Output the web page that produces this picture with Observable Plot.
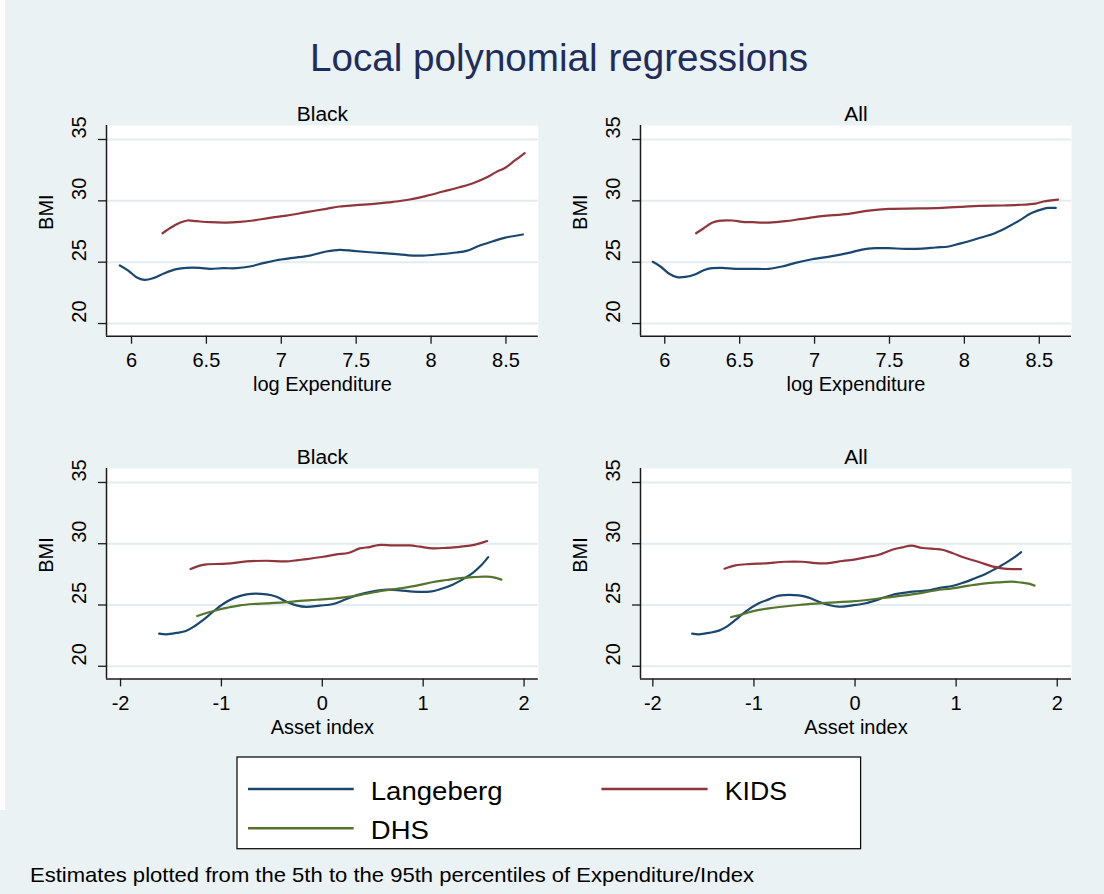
<!DOCTYPE html>
<html>
<head>
<meta charset="utf-8">
<script src="https://cdn.jsdelivr.net/npm/d3@7"></script>
<script src="https://cdn.jsdelivr.net/npm/@observablehq/plot@0.6"></script>
<style>
  body { margin: 0; background: #eaf2f3; }
  #root { position: relative; width: 1104px; height: 894px; background: #eaf2f3; overflow: hidden;
          font-family: "Liberation Sans", Arial, Helvetica, sans-serif; }
  .panel { position: absolute; }
  #overlay { position: absolute; left: 0; top: 0; }
</style>
</head>
<body>
<div id="root"></div>
<script>
// ---------------- DATA ----------------
const seriesNames = ["Langeberg", "KIDS", "DHS"];
const seriesColors = ["#1a476f", "#90353b", "#55752f"];

const yTicks = [20, 25, 30, 35];
const expTicks = [6, 6.5, 7, 7.5, 8, 8.5];
const assetTicks = [-2, -1, 0, 1, 2];

// log Expenditure, Black
const expBlackLangeberg = [[5.922,24.73],[5.978,24.32],[6.033,23.78],[6.085,23.56],[6.145,23.70],[6.22,24.10],[6.30,24.43],[6.367,24.54],[6.456,24.54],[6.523,24.46],[6.612,24.51],[6.70,24.51],[6.79,24.65],[6.879,24.92],[6.968,25.16],[7.079,25.35],[7.19,25.54],[7.30,25.87],[7.39,26.01],[7.48,25.92],[7.613,25.79],[7.747,25.68],[7.88,25.54],[7.947,25.54],[8.058,25.65],[8.17,25.79],[8.236,25.92],[8.325,26.36],[8.414,26.71],[8.49,26.98],[8.613,27.26]];
const expBlackKids = [[6.207,27.36],[6.267,27.85],[6.323,28.21],[6.372,28.40],[6.434,28.34],[6.523,28.26],[6.634,28.23],[6.723,28.29],[6.812,28.40],[6.923,28.61],[7.035,28.80],[7.168,29.08],[7.30,29.35],[7.39,29.54],[7.50,29.65],[7.635,29.78],[7.747,29.92],[7.858,30.11],[7.97,30.41],[8.08,30.76],[8.19,31.11],[8.28,31.44],[8.37,31.90],[8.437,32.36],[8.49,32.66],[8.56,33.29],[8.625,33.88]];

// log Expenditure, All
const expAllLangeberg = [[5.92,25.03],[5.971,24.65],[6.027,24.08],[6.082,23.78],[6.138,23.80],[6.205,24.02],[6.26,24.35],[6.316,24.51],[6.383,24.54],[6.472,24.46],[6.583,24.46],[6.694,24.46],[6.783,24.65],[6.872,24.95],[6.983,25.24],[7.117,25.49],[7.228,25.76],[7.317,26.03],[7.406,26.14],[7.495,26.14],[7.607,26.09],[7.718,26.11],[7.807,26.20],[7.896,26.28],[7.963,26.49],[8.052,26.79],[8.14,27.12],[8.185,27.28],[8.274,27.77],[8.363,28.37],[8.452,29.02],[8.528,29.35],[8.565,29.42],[8.61,29.42]];
const expAllKids = [[6.209,27.36],[6.26,27.77],[6.316,28.21],[6.36,28.37],[6.45,28.40],[6.516,28.29],[6.583,28.26],[6.694,28.23],[6.806,28.34],[6.917,28.53],[7.05,28.75],[7.228,28.94],[7.362,29.21],[7.495,29.35],[7.696,29.38],[7.851,29.43],[7.985,29.51],[8.096,29.59],[8.252,29.62],[8.363,29.67],[8.474,29.78],[8.528,29.95],[8.625,30.10]];

// Asset index, Black
const assetBlackLangeberg = [[-1.617,22.66],[-1.544,22.61],[-1.445,22.72],[-1.352,22.88],[-1.263,23.29],[-1.18,23.78],[-1.082,24.46],[-0.983,25.08],[-0.883,25.54],[-0.751,25.87],[-0.553,25.87],[-0.454,25.68],[-0.355,25.27],[-0.256,24.97],[-0.157,24.84],[-0.024,24.95],[0.108,25.08],[0.24,25.49],[0.372,25.87],[0.504,26.11],[0.636,26.25],[0.768,26.20],[0.90,26.09],[1.066,26.09],[1.165,26.28],[1.297,26.68],[1.429,27.28],[1.495,27.64],[1.578,28.26],[1.644,28.91]];
const assetBlackKids = [[-1.306,27.93],[-1.214,28.21],[-1.148,28.32],[-0.95,28.37],[-0.751,28.56],[-0.553,28.61],[-0.355,28.56],[-0.157,28.75],[0.009,28.94],[0.141,29.13],[0.256,29.24],[0.372,29.62],[0.471,29.73],[0.554,29.89],[0.702,29.86],[0.868,29.86],[0.967,29.76],[1.099,29.62],[1.231,29.67],[1.33,29.73],[1.462,29.84],[1.561,30.03],[1.634,30.22]];
const assetBlackDhs = [[-1.24,24.10],[-1.148,24.35],[-1.049,24.57],[-0.95,24.76],[-0.817,24.97],[-0.685,25.08],[-0.553,25.14],[-0.388,25.22],[-0.223,25.33],[-0.057,25.43],[0.108,25.52],[0.273,25.68],[0.438,25.92],[0.603,26.17],[0.768,26.36],[0.934,26.58],[1.099,26.88],[1.231,27.04],[1.363,27.20],[1.495,27.28],[1.627,27.31],[1.71,27.23],[1.776,27.07]];

// Asset index, All
const assetAllLangeberg = [[-1.611,22.66],[-1.545,22.61],[-1.446,22.72],[-1.347,22.91],[-1.265,23.26],[-1.182,23.78],[-1.083,24.46],[-0.952,25.14],[-0.853,25.46],[-0.754,25.76],[-0.556,25.79],[-0.457,25.60],[-0.358,25.27],[-0.259,25.00],[-0.16,24.86],[-0.028,24.97],[0.104,25.14],[0.235,25.46],[0.367,25.82],[0.499,26.01],[0.598,26.11],[0.73,26.20],[0.829,26.39],[0.961,26.55],[1.06,26.79],[1.159,27.09],[1.29,27.53],[1.389,27.96],[1.488,28.42],[1.571,28.86],[1.643,29.32]];
const assetAllKids = [[-1.291,27.96],[-1.182,28.23],[-1.05,28.34],[-0.886,28.40],[-0.688,28.53],[-0.523,28.53],[-0.391,28.42],[-0.259,28.42],[-0.127,28.59],[0.005,28.72],[0.137,28.94],[0.235,29.10],[0.367,29.51],[0.466,29.70],[0.558,29.84],[0.664,29.65],[0.796,29.57],[0.862,29.51],[0.961,29.24],[1.093,28.83],[1.225,28.51],[1.356,28.15],[1.455,27.99],[1.554,27.93],[1.643,27.93]];
const assetAllDhs = [[-1.225,24.02],[-1.116,24.24],[-0.985,24.54],[-0.853,24.73],[-0.721,24.86],[-0.556,25.00],[-0.391,25.11],[-0.193,25.22],[-0.028,25.30],[0.137,25.43],[0.301,25.60],[0.466,25.76],[0.631,25.95],[0.796,26.20],[0.961,26.36],[1.126,26.58],[1.29,26.77],[1.422,26.85],[1.554,26.90],[1.653,26.82],[1.719,26.74],[1.775,26.58]];

// ---------------- LAYOUT ----------------
const FONT = '"Liberation Sans", Arial, Helvetica, sans-serif';
const gridColor = "#e3ecee";
const axisColor = "#1a1a1a";
const yDomain = [18.97, 36.14];

const panels = [
  {title: "Black", xlabel: "log Expenditure", ticks: expTicks, xDomain: [5.833, 8.716],
   frame: {L: 105.7, R: 537.5, T: 125, B: 335.7}, series: [expBlackLangeberg, expBlackKids]},
  {title: "All", xlabel: "log Expenditure", ticks: expTicks, xDomain: [5.838, 8.715],
   frame: {L: 640, R: 1071, T: 125, B: 335.7}, series: [expAllLangeberg, expAllKids]},
  {title: "Black", xlabel: "Asset index", ticks: assetTicks, xDomain: [-2.139, 2.141],
   frame: {L: 105.7, R: 537.5, T: 468.3, B: 678.7}, series: [assetBlackLangeberg, assetBlackKids, assetBlackDhs]},
  {title: "All", xlabel: "Asset index", ticks: assetTicks, xDomain: [-2.122, 2.141],
   frame: {L: 640, R: 1071, T: 468.3, B: 678.7}, series: [assetAllLangeberg, assetAllKids, assetAllDhs]}
];

const root = document.getElementById("root");

// overlay for title, legend, caption
const W = 1104, H = 894;
const ov = d3.create("svg").attr("id", "overlay").attr("width", W).attr("height", H)
  .style("font-family", FONT);
ov.append("rect").attr("x", 0).attr("y", 0).attr("width", 5).attr("height", 810).attr("fill", "#ffffff");
ov.append("text").attr("x", 310).attr("y", 71).attr("font-size", 38).attr("fill", "#1f2d5e")
  .attr("textLength", 498).attr("lengthAdjust", "spacingAndGlyphs")
  .text("Local polynomial regressions");
// legend
const lg = ov.append("g");
lg.append("rect").attr("x", 237).attr("y", 757).attr("width", 623.6).attr("height", 91.7)
  .attr("fill", "#ffffff").attr("stroke", "#111").attr("stroke-width", 1.3);
const legendItems = [
  {name: seriesNames[0], color: seriesColors[0], x1: 248, x2: 353.7, y: 789, tx: 370.8, ty: 800, tl: 131.8},
  {name: seriesNames[1], color: seriesColors[1], x1: 601.4, x2: 707.6, y: 789, tx: 724.7, ty: 800, tl: 62.3},
  {name: seriesNames[2], color: seriesColors[2], x1: 248, x2: 353.7, y: 828.3, tx: 370.8, ty: 839.3, tl: 58}
];
for (const it of legendItems) {
  lg.append("line").attr("x1", it.x1).attr("x2", it.x2).attr("y1", it.y).attr("y2", it.y)
    .attr("stroke", it.color).attr("stroke-width", 2.6);
  lg.append("text").attr("x", it.tx).attr("y", it.ty).attr("font-size", 26).attr("fill", "#000")
    .attr("textLength", it.tl).attr("lengthAdjust", "spacingAndGlyphs").text(it.name);
}
ov.append("text").attr("x", 30).attr("y", 882).attr("font-size", 21).attr("fill", "#000")
  .attr("textLength", 724).attr("lengthAdjust", "spacingAndGlyphs")
  .text("Estimates plotted from the 5th to the 95th percentiles of Expenditure/Index");
root.appendChild(ov.node());

// panels
const ML = 100, MR = 20, MT = 40, MB = 80;
const mid = {textAnchor: "middle", lineAnchor: "middle", fill: "#000"};
for (const p of panels) {
  const f = p.frame;
  const width = f.R - f.L + ML + MR;
  const height = f.B - f.T + MT + MB;
  const lineMarks = p.series.map((s, i) =>
    Plot.line(s, {x: d => d[0], y: d => d[1], stroke: seriesColors[i], strokeWidth: 2.2, curve: "catmull-rom"}));
  const chart = Plot.plot({
    width, height,
    marginLeft: ML, marginRight: MR, marginTop: MT, marginBottom: MB,
    style: {background: "transparent", fontFamily: FONT, color: "#000", overflow: "visible"},
    x: {domain: p.xDomain},
    y: {domain: yDomain},
    marks: [
      Plot.frame({fill: "#ffffff", stroke: null}),
      Plot.gridY(yTicks, {stroke: gridColor, strokeOpacity: 1, strokeWidth: 2}),
      ...lineMarks,
      Plot.ruleY([yDomain[0]], {stroke: axisColor, strokeWidth: 1.5}),
      Plot.ruleX([p.xDomain[0]], {stroke: axisColor, strokeWidth: 1.5}),
      Plot.axisY(yTicks, {anchor: "left", tickSize: 8, tickFormat: () => "", label: null, stroke: axisColor, strokeWidth: 1.3}),
      Plot.axisX(p.ticks, {anchor: "bottom", tickSize: 8, tickFormat: () => "", label: null, stroke: axisColor, strokeWidth: 1.3}),
      Plot.text(yTicks, {...mid, y: d => d, frameAnchor: "left", dx: -26.5, dy: -12, rotate: -90,
        text: d => String(d), fontSize: 20}),
      Plot.text(p.ticks, {...mid, x: d => d, frameAnchor: "bottom", dy: 24.6,
        text: d => String(d), fontSize: 20}),
      Plot.text([p.xlabel], {...mid, frameAnchor: "bottom", dy: 48.5, text: d => d, fontSize: 20}),
      Plot.text(["BMI"], {...mid, frameAnchor: "left", dx: -60, dy: -18.7, rotate: -90, text: d => d, fontSize: 20}),
      Plot.text([p.title], {...mid, frameAnchor: "top", dy: -11, text: d => d, fontSize: 21})
    ]
  });
  chart.classList.add("panel");
  chart.style.left = (f.L - ML) + "px";
  chart.style.top = (f.T - MT) + "px";
  chart.style.position = "absolute";
  root.appendChild(chart);
}
</script>
</body>
</html>
